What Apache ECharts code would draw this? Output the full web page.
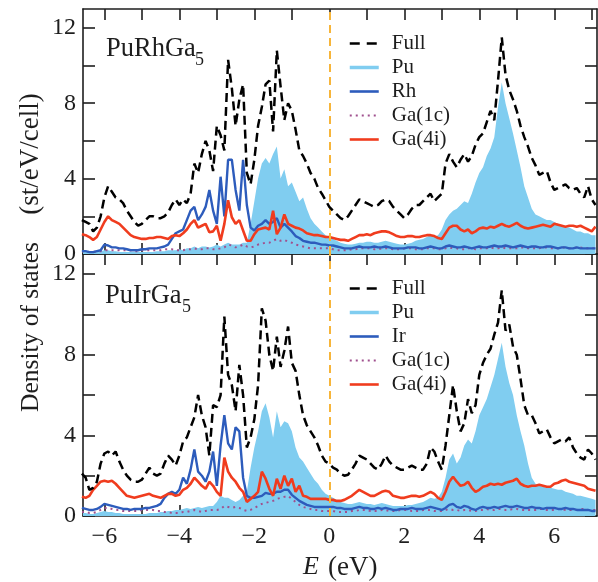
<!DOCTYPE html>
<html>
<head>
<meta charset="utf-8">
<script src="https://cdn.jsdelivr.net/npm/echarts@6/dist/echarts.min.js"></script>
<style>
html,body{margin:0;padding:0;background:#fff;}
#chart{width:598px;height:582px;}
</style>
</head>
<body>
<div id="chart"></div>
<script>
// Energy grid (eV)
const energies = [
 -6.6,-6.5,-6.4,-6.3,-6.2,-6.1,-6.0,-5.9,-5.8,-5.7,
 -5.6,-5.5,-5.4,-5.3,-5.2,-5.1,-5.0,-4.9,-4.8,-4.7,
 -4.6,-4.5,-4.4,-4.3,-4.2,-4.1,-4.0,-3.9,-3.8,-3.7,
 -3.6,-3.5,-3.4,-3.3,-3.2,-3.1,-3.0,-2.9,-2.8,-2.7,
 -2.6,-2.5,-2.4,-2.3,-2.2,-2.1,-2.0,-1.9,-1.8,-1.7,
 -1.6,-1.5,-1.4,-1.3,-1.2,-1.1,-1.0,-0.9,-0.8,-0.7,
 -0.6,-0.5,-0.4,-0.3,-0.2,-0.1,0.0,0.1,0.2,0.3,
 0.4,0.5,0.6,0.7,0.8,0.9,1.0,1.1,1.2,1.3,
 1.4,1.5,1.6,1.7,1.8,1.9,2.0,2.1,2.2,2.3,
 2.4,2.5,2.6,2.7,2.8,2.9,3.0,3.1,3.2,3.3,
 3.4,3.5,3.6,3.7,3.8,3.9,4.0,4.1,4.2,4.3,
 4.4,4.5,4.6,4.7,4.8,4.9,5.0,5.1,5.2,5.3,
 5.4,5.5,5.6,5.7,5.8,5.9,6.0,6.1,6.2,6.3,
 6.4,6.5,6.6,6.7,6.8,6.9,7.0,7.1
];

// ---------- PuRhGa5 (top panel) ----------
const fullRh = [
 1.8,1.7,1.6,1.2,1.4,2.0,3.0,3.6,3.3,3.0,
 2.9,2.7,2.3,2.0,1.7,1.5,1.6,1.8,2.0,2.0,
 1.9,1.9,2.0,2.2,2.6,2.9,2.6,2.9,2.7,3.2,
 4.8,4.3,5.3,6.0,5.5,4.4,6.8,6.3,5.5,10.3,
 8.8,6.8,8.2,9.0,4.3,3.7,5.0,6.8,7.8,9.0,
 9.2,6.5,10.8,8.9,7.1,8.0,7.6,6.6,5.5,5.2,
 4.8,4.3,4.0,3.5,3.2,2.85,2.5,2.3,2.1,1.9,
 1.8,2.0,2.3,2.6,2.9,2.8,2.7,2.6,2.5,2.6,
 2.8,2.9,2.8,2.5,2.3,2.1,1.9,2.1,2.4,2.6,
 2.6,2.8,3.0,3.2,2.8,3.0,3.2,4.8,5.3,4.9,
 4.6,5.0,5.3,4.9,5.2,5.8,6.2,6.4,7.0,7.6,
 7.1,9.2,11.5,9.5,8.7,8.2,7.6,6.8,6.2,5.7,
 5.1,4.7,4.2,4.3,4.4,3.8,3.4,3.5,3.6,3.7,
 3.5,3.4,3.5,3.2,3.0,3.6,2.9,2.6
];
const puRh = [
 0.1,0.1,0.1,0.1,0.1,0.15,0.2,0.2,0.15,0.15,
 0.1,0.1,0.1,0.1,0.1,0.1,0.1,0.1,0.1,0.1,
 0.15,0.15,0.15,0.2,0.2,0.2,0.25,0.2,0.3,0.3,
 0.4,0.3,0.4,0.4,0.35,0.4,0.5,0.4,0.5,0.6,
 0.5,0.5,0.5,0.6,0.6,1.6,2.8,4.0,4.8,5.1,
 4.8,5.3,5.7,4.0,4.5,3.6,3.8,3.3,2.8,3.0,
 2.4,1.9,1.6,1.4,1.2,1.0,0.9,0.8,0.7,0.6,
 0.55,0.5,0.5,0.55,0.6,0.6,0.65,0.65,0.6,0.6,
 0.65,0.7,0.65,0.6,0.55,0.5,0.5,0.55,0.6,0.7,
 0.75,0.8,0.9,1.0,0.9,1.0,1.3,1.8,2.1,2.3,
 2.4,2.6,2.8,2.7,3.2,3.8,4.3,4.6,5.2,5.6,
 6.2,7.8,9.1,8.0,7.2,6.4,5.5,4.6,3.6,3.0,
 2.4,2.1,2.0,1.9,1.8,1.8,1.7,1.6,1.5,1.4,
 1.4,1.3,1.2,1.2,1.1,1.1,1.0,1.0
];
const rh = [
 0.15,0.15,0.1,0.1,0.15,0.2,0.5,0.45,0.35,0.35,
 0.3,0.3,0.25,0.2,0.2,0.2,0.25,0.25,0.3,0.3,
 0.3,0.35,0.4,0.5,0.8,1.1,1.2,1.3,1.8,2.3,
 2.5,1.8,2.1,2.5,3.4,2.3,1.6,4.1,2.0,5.0,
 5.0,3.4,2.3,5.0,2.6,1.4,1.25,1.5,1.6,1.8,
 1.6,1.7,1.9,1.4,1.6,1.4,1.2,0.95,0.85,0.7,
 0.65,0.6,0.6,0.55,0.5,0.5,0.45,0.45,0.4,0.35,
 0.3,0.3,0.3,0.35,0.4,0.35,0.35,0.35,0.4,0.35,
 0.35,0.4,0.35,0.3,0.3,0.3,0.3,0.35,0.35,0.35,
 0.3,0.3,0.35,0.4,0.35,0.3,0.3,0.4,0.45,0.4,
 0.35,0.35,0.4,0.35,0.3,0.35,0.4,0.35,0.35,0.4,
 0.45,0.4,0.4,0.45,0.4,0.35,0.4,0.45,0.4,0.35,
 0.4,0.4,0.35,0.35,0.4,0.4,0.35,0.3,0.35,0.35,
 0.3,0.3,0.35,0.3,0.3,0.3,0.3,0.3
];
const ga1cRh = [
 0.15,0.15,0.1,0.1,0.15,0.15,0.2,0.2,0.2,0.2,
 0.2,0.2,0.2,0.2,0.15,0.15,0.2,0.2,0.2,0.2,
 0.2,0.2,0.25,0.25,0.25,0.2,0.2,0.2,0.25,0.25,
 0.3,0.25,0.25,0.3,0.3,0.25,0.25,0.3,0.35,0.5,
 0.45,0.35,0.4,0.5,0.4,0.35,0.4,0.5,0.55,0.6,
 0.6,0.7,0.8,0.7,0.75,0.65,0.6,0.5,0.45,0.4,
 0.35,0.3,0.3,0.3,0.3,0.3,0.3,0.25,0.2,0.2,
 0.2,0.2,0.25,0.25,0.3,0.3,0.3,0.3,0.25,0.25,
 0.3,0.3,0.3,0.25,0.25,0.25,0.3,0.3,0.3,0.25,
 0.25,0.25,0.3,0.3,0.3,0.25,0.25,0.3,0.35,0.3,
 0.3,0.25,0.25,0.3,0.3,0.25,0.3,0.3,0.3,0.35,
 0.3,0.3,0.35,0.3,0.3,0.3,0.3,0.35,0.35,0.3,
 0.3,0.3,0.3,0.35,0.35,0.3,0.3,0.3,0.35,0.35,
 0.3,0.3,0.35,0.35,0.3,0.3,0.3,0.3
];
const ga4iRh = [
 1.05,1.0,0.9,0.75,0.9,1.3,1.7,2.0,1.8,1.7,
 1.6,1.4,1.2,1.0,0.9,0.85,0.8,0.8,0.85,0.85,
 0.9,0.9,0.85,0.8,0.95,1.0,0.95,1.1,1.3,1.6,
 1.8,1.4,1.5,1.6,1.15,1.2,1.5,0.7,1.6,2.85,
 1.95,1.6,1.8,1.25,0.7,0.7,1.05,1.3,1.35,1.4,
 1.3,2.3,1.05,1.4,2.1,1.6,1.5,1.4,1.35,1.25,
 1.1,1.05,1.0,1.0,0.95,0.9,0.9,0.85,0.8,0.75,
 0.75,0.7,0.8,0.9,1.0,1.0,1.05,1.0,1.1,1.15,
 1.2,1.2,1.15,1.05,0.95,0.9,0.9,0.95,0.95,0.9,
 0.9,0.95,1.0,1.0,0.95,0.85,0.8,1.1,1.4,1.5,
 1.5,1.3,1.2,1.3,1.1,1.2,1.35,1.4,1.35,1.45,
 1.4,1.5,1.6,1.5,1.45,1.55,1.65,1.5,1.4,1.35,
 1.4,1.45,1.5,1.55,1.5,1.45,1.6,1.55,1.5,1.45,
 1.5,1.5,1.45,1.5,1.4,1.3,1.2,1.45
];

// ---------- PuIrGa5 (bottom panel) ----------
const fullIr = [
 2.1,1.9,1.3,1.4,1.7,2.6,3.1,3.2,3.0,3.2,
 2.7,2.3,2.0,1.8,1.7,1.7,1.8,2.1,2.4,2.1,
 2.0,2.1,2.6,3.0,2.8,2.5,3.0,3.7,3.9,4.4,
 4.9,6.0,5.0,4.4,3.0,5.5,5.4,6.0,9.9,7.0,
 6.5,5.2,7.5,6.0,3.4,3.9,4.8,6.5,10.3,9.7,
 8.0,7.2,8.9,7.4,8.2,9.4,7.6,7.2,6.0,5.0,
 4.5,4.2,3.9,3.5,3.0,2.7,2.6,2.4,2.3,2.1,
 2.0,2.05,2.3,2.6,3.0,2.9,2.8,2.6,2.4,2.3,
 2.6,3.0,2.7,2.5,2.4,2.3,2.3,2.4,2.5,2.4,
 2.3,2.3,2.6,3.4,3.2,2.7,2.3,3.5,5.0,6.5,
 5.2,4.2,4.6,5.8,5.1,5.5,7.0,7.6,8.0,8.3,
 9.0,9.6,11.2,9.2,9.5,8.4,8.0,6.8,5.5,5.0,
 5.0,4.6,4.1,4.2,4.3,3.9,3.6,3.7,3.8,3.7,
 3.9,3.4,3.1,2.9,2.8,3.3,3.1,2.8
];
const puIr = [
 0.15,0.15,0.1,0.1,0.15,0.2,0.25,0.2,0.2,0.15,
 0.15,0.1,0.1,0.1,0.1,0.1,0.1,0.1,0.15,0.15,
 0.15,0.2,0.2,0.25,0.25,0.3,0.3,0.35,0.4,0.35,
 0.4,0.45,0.4,0.45,0.5,0.5,0.7,1.0,0.9,0.9,
 0.8,0.7,0.8,1.0,1.2,2.4,3.4,4.2,5.2,5.6,
 4.9,3.9,5.2,4.4,4.7,4.6,4.2,3.4,2.9,2.7,
 2.4,2.1,1.8,1.6,1.3,1.1,1.0,0.9,0.8,0.7,
 0.65,0.6,0.6,0.65,0.7,0.65,0.6,0.6,0.55,0.6,
 0.65,0.6,0.55,0.5,0.5,0.5,0.5,0.55,0.55,0.6,
 0.65,0.7,0.8,0.9,0.85,0.9,1.2,1.9,2.8,3.1,
 2.6,2.9,3.5,3.8,3.6,4.2,5.0,5.4,5.8,6.4,
 7.0,7.8,8.6,7.4,6.6,6.0,5.0,4.2,3.5,2.6,
 1.9,1.6,1.5,1.45,1.4,1.4,1.35,1.3,1.3,1.2,
 1.15,1.1,1.0,1.0,0.95,0.9,0.85,0.8
];
const ir = [
 0.4,0.35,0.3,0.3,0.35,0.45,0.6,0.55,0.5,0.45,
 0.4,0.35,0.35,0.3,0.35,0.35,0.35,0.4,0.4,0.45,
 0.5,0.6,0.9,1.1,1.2,1.1,1.3,1.9,1.6,2.3,
 3.3,2.2,2.0,1.7,2.2,3.2,1.5,3.5,5.0,3.6,
 3.3,4.4,4.2,1.9,1.0,0.9,0.9,0.95,1.0,1.15,
 1.1,1.1,1.2,1.2,1.3,1.3,1.05,0.9,0.75,0.65,
 0.55,0.5,0.45,0.45,0.45,0.45,0.45,0.45,0.4,0.4,
 0.35,0.35,0.35,0.4,0.45,0.4,0.4,0.35,0.35,0.4,
 0.35,0.4,0.35,0.3,0.3,0.35,0.35,0.35,0.4,0.35,
 0.35,0.35,0.4,0.45,0.4,0.35,0.3,0.4,0.55,0.6,
 0.45,0.4,0.5,0.45,0.35,0.3,0.4,0.45,0.4,0.4,
 0.45,0.4,0.45,0.5,0.45,0.45,0.5,0.45,0.4,0.4,
 0.45,0.4,0.4,0.35,0.4,0.4,0.4,0.35,0.35,0.4,
 0.35,0.35,0.3,0.3,0.3,0.3,0.25,0.25
];
const ga1cIr = [
 0.2,0.2,0.15,0.15,0.2,0.3,0.4,0.4,0.35,0.3,
 0.3,0.25,0.25,0.25,0.25,0.25,0.3,0.3,0.3,0.3,
 0.25,0.25,0.2,0.2,0.15,0.15,0.15,0.2,0.2,0.25,
 0.3,0.25,0.2,0.25,0.3,0.3,0.3,0.35,0.5,0.45,
 0.4,0.45,0.4,0.3,0.25,0.3,0.4,0.5,0.6,0.65,
 0.7,0.75,0.85,0.9,0.95,1.0,0.85,0.7,0.55,0.45,
 0.4,0.35,0.3,0.3,0.25,0.25,0.25,0.25,0.2,0.2,
 0.2,0.2,0.25,0.25,0.3,0.3,0.3,0.25,0.25,0.25,
 0.3,0.3,0.25,0.25,0.25,0.3,0.3,0.3,0.25,0.25,
 0.25,0.3,0.3,0.3,0.25,0.25,0.25,0.3,0.35,0.3,
 0.3,0.25,0.3,0.3,0.25,0.25,0.3,0.3,0.35,0.3,
 0.3,0.35,0.35,0.3,0.3,0.35,0.35,0.3,0.3,0.3,
 0.3,0.3,0.35,0.35,0.3,0.3,0.3,0.35,0.35,0.3,
 0.3,0.3,0.3,0.35,0.35,0.3,0.3,0.3
];
const ga4iIr = [
 0.95,0.9,1.0,1.3,1.5,1.7,1.75,1.7,1.75,1.6,
 1.4,1.2,1.0,0.95,0.9,0.95,1.0,1.05,1.1,1.0,
 0.95,0.9,1.0,1.1,1.1,1.0,1.05,1.3,1.4,1.6,
 1.9,1.7,1.5,1.35,1.7,1.5,1.2,1.0,2.9,2.2,
 1.9,1.7,1.4,1.2,0.7,0.85,1.0,1.2,2.2,1.85,
 1.35,1.0,1.85,1.35,2.0,1.5,1.85,1.2,1.5,1.0,
 0.95,0.85,0.85,0.85,0.85,0.85,0.8,0.8,0.75,0.75,
 0.8,0.9,1.0,1.15,1.3,1.2,1.1,1.0,1.0,1.1,
 1.2,1.25,1.2,1.0,0.95,0.9,0.9,0.95,1.0,1.0,
 0.95,1.0,1.1,1.2,1.1,0.9,0.8,1.2,1.7,1.95,
 1.7,1.5,1.55,1.7,1.4,1.2,1.3,1.45,1.5,1.6,
 1.55,1.6,1.55,1.65,1.7,1.75,1.85,1.6,1.5,1.45,
 1.5,1.5,1.55,1.5,1.45,1.45,1.6,1.65,1.75,1.8,
 1.7,1.65,1.6,1.55,1.5,1.35,1.3,1.25
];

// Axis ticks / labels
const xTicks = [-6,-5,-4,-3,-2,-1,0,1,2,3,4,5,6,7];
const xLabels = [-6,-4,-2,0,2,4,6];
const yTicks = [0,2,4,6,8,10,12];
const yLabels = [0,4,8,12];
const panelNames = ['PuRhGa', 'PuIrGa'];
const legendNamesTop = ['Full','Pu','Rh','Ga(1c)','Ga(4i)'];
const legendNamesBottom = ['Full','Pu','Ir','Ga(1c)','Ga(4i)'];

const SERIF = "'Liberation Serif', 'Times New Roman', serif";
const INK = '#1e1e1e';
const C_PU = '#80cdf0', C_TM = '#2d5cbc', C_G1 = '#a0508e', C_G4 = '#f03c1e', C_EF = '#f7b53a';

const pairs = vals => energies.map((e, i) => [e, vals[i]]);
const fmtX = v => (v < 0 ? '\u2212' + Math.abs(v) : String(v));

function xAx(gridIndex, position, showLabels) {
  return {
    type: 'value', gridIndex, position, min: -6.57, max: 7.14,
    axisLine: { show: true, onZero: false, lineStyle: { color: INK, width: 1.6 } },
    axisTick: { show: true, inside: true, length: 11, customValues: xTicks, lineStyle: { color: INK, width: 1.6 } },
    axisLabel: { show: showLabels, customValues: xLabels, formatter: fmtX, margin: 9,
      fontFamily: SERIF, fontSize: 24, color: INK },
    splitLine: { show: false }
  };
}
function yAx(gridIndex, position, showLabels) {
  return {
    type: 'value', gridIndex, position, min: 0, max: 13,
    axisLine: { show: true, onZero: false, lineStyle: { color: INK, width: 1.6 } },
    axisTick: { show: true, inside: true, length: 12, customValues: yTicks, lineStyle: { color: INK, width: 1.6 } },
    axisLabel: { show: showLabels, customValues: yLabels, margin: 7,
      fontFamily: SERIF, fontSize: 24, color: INK },
    splitLine: { show: false }
  };
}

function panelSeries(gi, full, pu, tm, tmName, g1, g4) {
  const ax = { xAxisIndex: gi * 2, yAxisIndex: gi * 2 };
  return [
    Object.assign({ name: 'Pu', type: 'line', data: pairs(pu), symbol: 'none', z: 1,
      lineStyle: { width: 0, color: C_PU }, itemStyle: { color: C_PU },
      areaStyle: { color: C_PU, opacity: 1 } }, ax),
    Object.assign({ name: 'Ga(1c)', type: 'line', data: pairs(g1), symbol: 'none', z: 2,
      lineStyle: { width: 2, color: C_G1, type: [2, 4] }, itemStyle: { color: C_G1 } }, ax),
    Object.assign({ name: tmName, type: 'line', data: pairs(tm), symbol: 'none', z: 3,
      lineStyle: { width: 2.4, color: C_TM }, itemStyle: { color: C_TM } }, ax),
    Object.assign({ name: 'Ga(4i)', type: 'line', data: pairs(g4), symbol: 'none', z: 4,
      lineStyle: { width: 2.6, color: C_G4 }, itemStyle: { color: C_G4 } }, ax),
    Object.assign({ name: 'Full', type: 'line', data: pairs(full), symbol: 'none', z: 5,
      lineStyle: { width: 2.5, color: '#000', type: [9, 5] }, itemStyle: { color: '#000' },
      markLine: { silent: true, symbol: ['none', 'none'], label: { show: false },
        lineStyle: { color: C_EF, type: [8, 5], width: 2 }, data: [{ xAxis: 0 }] } }, ax)
  ];
}

function legendCfg(top, names) {
  const styles = {
    'Full': { lineStyle: { color: '#000', width: 2.4, type: [10, 7] } },
    'Pu': { lineStyle: { color: C_PU, width: 3.5, type: 'solid' } },
    'Rh': { lineStyle: { color: C_TM, width: 2.6, type: 'solid' } },
    'Ir': { lineStyle: { color: C_TM, width: 2.6, type: 'solid' } },
    'Ga(1c)': { lineStyle: { color: C_G1, width: 2, type: [2, 4] } },
    'Ga(4i)': { lineStyle: { color: C_G4, width: 2.6, type: 'solid' } }
  };
  return {
    orient: 'vertical', left: 343, top, itemWidth: 29, itemHeight: 14, itemGap: 3,
    selectedMode: false,
    textStyle: { fontFamily: SERIF, fontSize: 21, color: INK, padding: [0, 0, 0, 8] },
    data: names.map(n => Object.assign({ name: n, itemStyle: { opacity: 0 } }, styles[n]))
  };
}

const chart = echarts.init(document.getElementById('chart'), null, { renderer: 'canvas' });
chart.setOption({
  animation: false,
  backgroundColor: '#fff',
  grid: [
    { left: 83, top: 9, width: 514, height: 245 },
    { left: 83, top: 254, width: 514, height: 262 }
  ],
  xAxis: [xAx(0, 'bottom', false), xAx(0, 'top', false), xAx(1, 'bottom', true), xAx(1, 'top', false)],
  yAxis: [yAx(0, 'left', true), yAx(0, 'right', false), yAx(1, 'left', true), yAx(1, 'right', false)],
  legend: [legendCfg(28, legendNamesTop), legendCfg(273, legendNamesBottom)],
  series: [].concat(
    panelSeries(0, fullRh, puRh, rh, 'Rh', ga1cRh, ga4iRh),
    panelSeries(1, fullIr, puIr, ir, 'Ir', ga1cIr, ga4iIr)
  ),
  graphic: [
    { type: 'text', x: 106, y: 36, style: { text: panelNames[0], font: '26.5px ' + SERIF, fill: INK } },
    { type: 'text', x: 195, y: 51, style: { text: '5', font: '18px ' + SERIF, fill: INK } },
    { type: 'text', x: 105, y: 283, style: { text: panelNames[1], font: '26.5px ' + SERIF, fill: INK } },
    { type: 'text', x: 182, y: 298, style: { text: '5', font: '18px ' + SERIF, fill: INK } },
    { type: 'text', x: 31, y: 327, rotation: Math.PI / 2,
      style: { text: 'Density of states', font: '25.5px ' + SERIF, fill: INK, align: 'center', verticalAlign: 'middle', textAlign: 'center', textVerticalAlign: 'middle' } },
    { type: 'text', x: 31, y: 154, rotation: Math.PI / 2,
      style: { text: '(st/eV/cell)', font: '27px ' + SERIF, fill: INK, align: 'center', verticalAlign: 'middle', textAlign: 'center', textVerticalAlign: 'middle' } },
    { type: 'text', x: 303, y: 554,
      style: { text: 'E', font: 'italic 26px ' + SERIF, fill: INK } },
    { type: 'text', x: 328, y: 554,
      style: { text: '(eV)', font: '27px ' + SERIF, fill: INK } }
  ]
});
</script>
</body>
</html>
